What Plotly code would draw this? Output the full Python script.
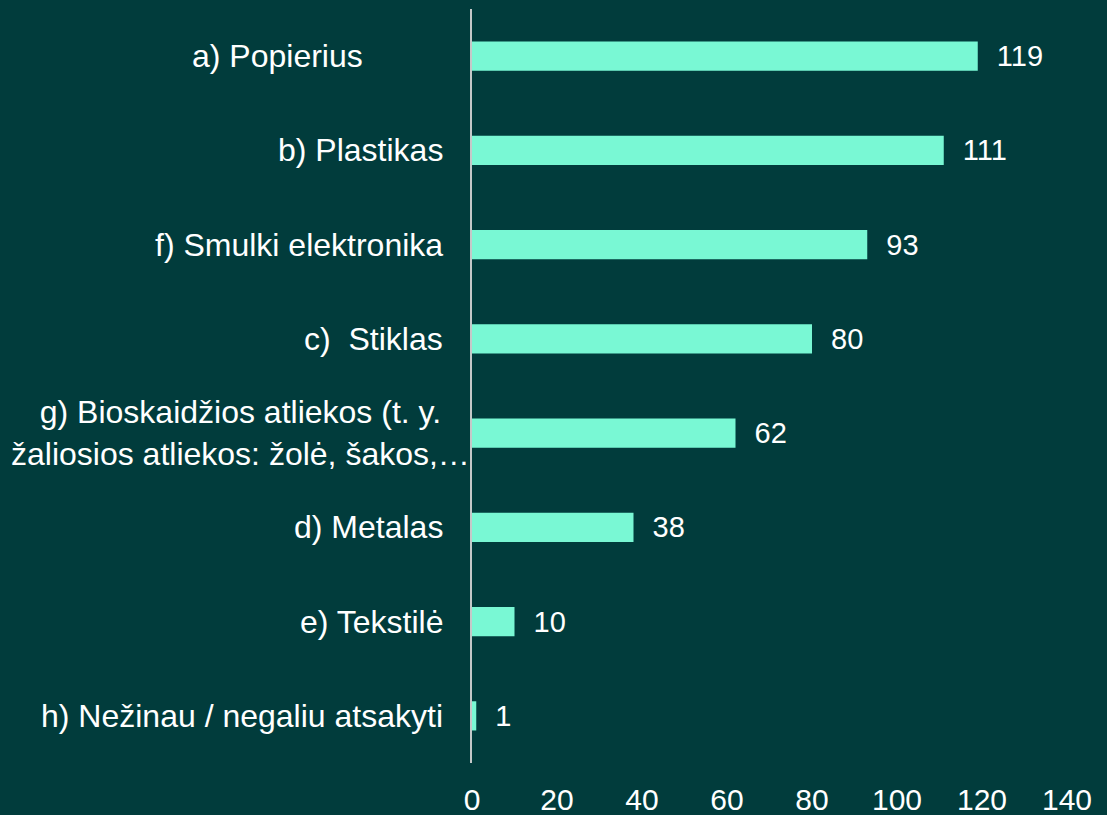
import plotly.graph_objects as go

# categories top -> bottom, as in the survey chart
labels = [
    "a) Popierius" + "\u00a0" * 9,
    "b) Plastikas",
    "f) Smulki elektronika",
    "c)\u00a0 Stiklas",
    "g) Bioskaidžios atliekos (t. y.<br>žaliosios atliekos: žolė, šakos,…",
    "d) Metalas",
    "e) Tekstilė",
    "h) Nežinau / negaliu atsakyti",
]
counts = [119, 111, 93, 80, 62, 38, 10, 1]
x_ticks = [0, 20, 40, 60, 80, 100, 120, 140]

BG = "#013c3c"
BAR = "#79f8d4"
FONT = "Liberation Sans, Arial, sans-serif"

fig = go.Figure()
fig.add_trace(go.Bar(
    x=counts, y=labels, orientation="h",
    marker=dict(color=BAR, line=dict(width=0)),
    width=0.31,
    text=counts, texttemplate="\u00a0\u00a0%{x}", textposition="outside",
    textfont=dict(color="white", size=29, family=FONT),
    constraintext="none", cliponaxis=False,
))

# category labels as annotations so the wrapped one can be centred like the original
for lab in labels:
    wrapped = "<br>" in lab
    fig.add_annotation(
        x=0, y=lab, xref="x", yref="y", text=lab, showarrow=False,
        xanchor="right", yanchor="middle", align="center" if wrapped else "right",
        xshift=0 if wrapped else -27,
        font=dict(color="white", size=32, family=FONT),
    )

fig.update_layout(
    width=1107, height=815,
    margin=dict(l=472, r=40, t=9, b=52),
    paper_bgcolor=BG, plot_bgcolor=BG,
    showlegend=False,
    font=dict(family=FONT, color="white"),
)
fig.update_xaxes(
    range=[0, 140], tickvals=x_ticks, showgrid=False, zeroline=False,
    showline=False, ticks="", ticklabelstandoff=16, automargin=False,
    tickfont=dict(size=30, color="white", family=FONT),
)
fig.update_yaxes(
    range=[7.5, -0.5], showticklabels=False, showgrid=False, zeroline=False,
    showline=True, linecolor="#c4c8c8", linewidth=2, ticks="", automargin=False,
)

fig.write_html("out.html", config={"displayModeBar": False},
               post_script="document.body.style.margin='0';")
